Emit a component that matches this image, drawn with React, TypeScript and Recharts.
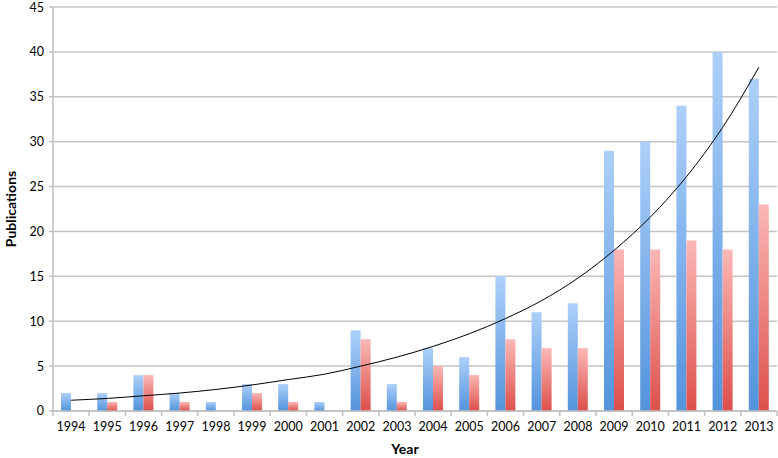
import React from "react"
import { ComposedChart, Bar, Line, XAxis, YAxis, CartesianGrid, Label } from "recharts"

const years = ["1994", "1995", "1996", "1997", "1998", "1999", "2000", "2001", "2002", "2003", "2004", "2005", "2006", "2007", "2008", "2009", "2010", "2011", "2012", "2013"]
const bluePubs = [2, 2, 4, 2, 1, 3, 3, 1, 9, 3, 7, 6, 15, 11, 12, 29, 30, 34, 40, 37]
const redPubs = [0, 1, 4, 1, 0, 2, 1, 0, 8, 1, 5, 4, 8, 7, 7, 18, 18, 19, 18, 23]
const trendPubs = [1.2, 1.4, 1.7, 2.0, 2.4, 2.9, 3.5, 4.1, 5.0, 6.0, 7.2, 8.6, 10.3, 12.3, 14.8, 17.9, 21.6, 26.1, 31.6, 38.3]
const yTicks = [0, 5, 10, 15, 20, 25, 30, 35, 40, 45]

const data = years.map((year, i) => ({
  year,
  blue: bluePubs[i],
  red: redPubs[i],
  trend: trendPubs[i],
}))

const FONT = "Lato, 'Liberation Sans', sans-serif"
const W = 778
const H = 458
const PLOT_LEFT = 53
const PLOT_RIGHT = 777
const BAND = (PLOT_RIGHT - PLOT_LEFT) / years.length

function YearTick(props: any) {
  const { x, y, payload, index } = props
  const left = x - BAND / 2
  return (
    <g>
      <line x1={left} y1={y - 8} x2={left} y2={y - 3} stroke="#bfbfbf" strokeWidth={1.5} />
      {index === years.length - 1 && (
        <line x1={left + BAND} y1={y - 8} x2={left + BAND} y2={y - 3} stroke="#bfbfbf" strokeWidth={1.5} />
      )}
      <text x={x} y={y + 12} textAnchor="middle" fontSize={12.5} fill="#000" fontFamily={FONT}>
        {payload.value}
      </text>
    </g>
  )
}

function PubLabel(props: any) {
  const { viewBox } = props
  const cy = viewBox.y + viewBox.height / 2
  return (
    <text
      x={10}
      y={cy}
      transform={`rotate(-90, 10, ${cy})`}
      textAnchor="middle"
      dominantBaseline="central"
      fontSize={14}
      fontWeight="bold"
      fill="#000"
      fontFamily={FONT}
    >
      Publications
    </text>
  )
}

export default function App() {
  return (
    <div style={{ position: "absolute", left: 0, top: 0, width: W, height: H, background: "#fff" }}>
      <ComposedChart
        width={W}
        height={H}
        data={data}
        margin={{ top: 7, right: W - PLOT_RIGHT, left: 0, bottom: 22 }}
        barGap={0}
      >
        <defs>
          <linearGradient id="blueGrad" x1="0" y1="0" x2="0" y2="1">
            <stop offset="0%" stopColor="#add0f9" />
            <stop offset="100%" stopColor="#5393dc" />
          </linearGradient>
          <linearGradient id="redGrad" x1="0" y1="0" x2="0" y2="1">
            <stop offset="0%" stopColor="#fbb8b5" />
            <stop offset="100%" stopColor="#dd4f4b" />
          </linearGradient>
        </defs>
        <CartesianGrid vertical={false} stroke="#c4c4c4" strokeWidth={1.5} />
        <XAxis
          dataKey="year"
          height={25}
          stroke="#bfbfbf"
          strokeWidth={1.5}
          tickLine={false}
          tick={<YearTick />}
          interval={0}
        >
          <Label value="Year" position="bottom" offset={8} fontSize={14} fontWeight="bold" fill="#000" fontFamily={FONT} dx={-10} />
        </XAxis>
        <YAxis
          width={PLOT_LEFT}
          domain={[0, 45]}
          ticks={yTicks}
          stroke="#bfbfbf"
          strokeWidth={1.5}
          tickSize={4}
          tick={{ fontSize: 12.5, fill: "#000", fontFamily: FONT }}
          tickMargin={5}
        >
          <Label content={<PubLabel />} />
        </YAxis>
        <Bar dataKey="blue" fill="url(#blueGrad)" barSize={10} isAnimationActive={false} />
        <Bar dataKey="red" fill="url(#redGrad)" barSize={10} isAnimationActive={false} />
        <Line dataKey="trend" type="monotone" stroke="#000" strokeWidth={1} dot={false} isAnimationActive={false} />
      </ComposedChart>
    </div>
  )
}
